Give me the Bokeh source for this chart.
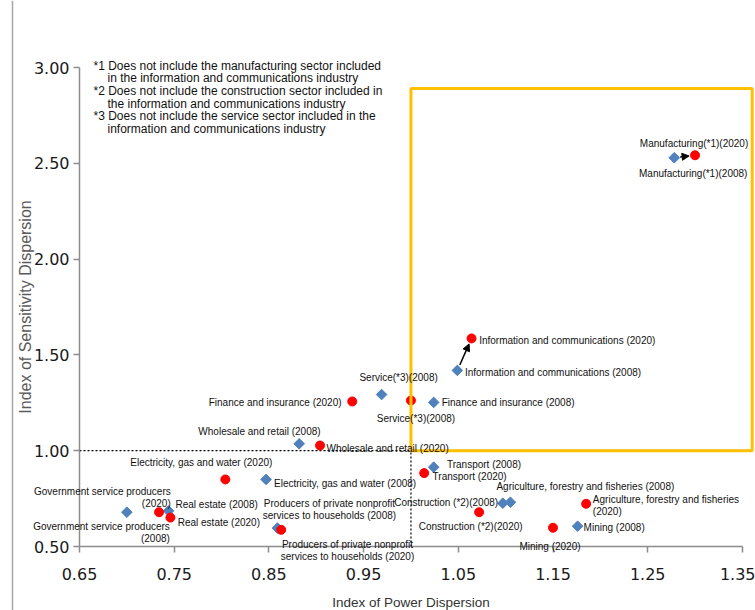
import numpy as np
from bokeh.plotting import figure
from bokeh.models import (ColumnDataSource, LabelSet, Arrow, NormalHead, BoxAnnotation,
                          FixedTicker, PrintfTickFormatter, Range1d)
from bokeh.core.properties import value
from bokeh.embed import file_html
from bokeh.resources import INLINE

# ---------------- data ----------------
sectors = ["Manufacturing", "Information and communications", "Finance and insurance",
           "Service", "Wholesale and retail", "Electricity, gas and water",
           "Government service producers", "Real estate",
           "Producers of private nonprofit services to households", "Transport",
           "Construction", "Agriculture, forestry and fisheries", "Mining"]

power_2008 = [1.278, 1.049, 1.024, 0.969, 0.882, 0.847, 0.700, 0.744, 0.859, 1.024, 1.097, 1.105, 1.176]
sens_2008 = [2.529, 1.419, 1.252, 1.293, 1.036, 0.850, 0.679, 0.686, 0.596, 0.914, 0.726, 0.731, 0.606]
power_2020 = [1.300, 1.064, 0.938, 1.000, 0.904, 0.804, 0.734, 0.746, 0.863, 1.014, 1.072, 1.185, 1.150]
sens_2020 = [2.542, 1.586, 1.257, 1.262, 1.027, 0.850, 0.679, 0.651, 0.587, 0.883, 0.679, 0.723, 0.598]

labels_2008 = ["Manufacturing(*1)(2008)", "Information and communications (2008)",
               "Finance and insurance (2008)", "Service(*3)(2008)", "Wholesale and retail (2008)",
               "Electricity, gas and water (2008)", "Government service producers\n(2008)",
               "Real estate (2008)", "Producers of private nonprofit\nservices to households (2008)",
               "Transport (2008)", "Construction (*2)(2008)",
               "Agriculture, forestry and fisheries (2008)", "Mining (2008)"]
labels_2020 = ["Manufacturing(*1)(2020)", "Information and communications (2020)",
               "Finance and insurance (2020)", "Service(*3)(2008)", "Wholesale and retail (2020)",
               "Electricity, gas and water (2020)", "Government service producers\n(2020)",
               "Real estate (2020)", "Producers of private nonprofit\nservices to households (2020)",
               "Transport (2020)", "Construction (*2)(2020)",
               "Agriculture, forestry and fisheries\n(2020)", "Mining (2020)"]

arrow_sectors = [0, 1]  # indices of sectors with change arrows

x_ticks = [0.65, 0.75, 0.85, 0.95, 1.05, 1.15, 1.25, 1.35]
y_ticks = [0.50, 1.00, 1.50, 2.00, 2.50, 3.00]

notes = ["*1 Does not include the manufacturing sector included",
         "in the information and communications industry",
         "*2 Does not include the construction sector included in",
         "the information and communications industry",
         "*3 Does not include the service sector included in the",
         "information and communications industry"]
notes_indent = [0, 1, 0, 1, 0, 1]

THRESHOLD = 1.0

# ---------------- layout (positions / styles) ----------------
W, H = 755, 610
PX0, PY0 = 79, 546          # canvas px of the axes origin (0.65, 0.50)
XS, YS = 947.0, 191.6       # px per data unit
X_START, X_END = 0.65 - PX0 / XS, 0.65 + (W - PX0) / XS
Y_START, Y_END = 0.50 - (H - PY0) / YS, 0.50 + PY0 / YS

def cx(px):  # canvas px -> data x
    return 0.65 + (px - PX0) / XS

def cy(py):  # canvas px (from top) -> data y
    return 0.50 + (PY0 - py) / YS

# label placement: (align, dx px, dy px up)
lab_pos_2008 = [("center", 19, -16), ("left", 7.6, -1.7), ("left", 8, -0.3), ("center", 17, 17.3),
                ("center", -39.7, 12.3), ("left", 8, -4.3), ("right", 43, -20.5), ("left", 7, 6.3),
                ("center", 52, 18.2), ("left", 13.3, 2.7), ("right", -4.7, 1), ("center", 75, 16),
                ("left", 6, -1.6)]
lab_pos_2020 = [("center", -1, 11.4), ("left", 7.6, -2), ("right", -10.7, -1.3), ("center", 5, -18.3),
                ("left", 6.4, -3.3), ("center", -24, 17.3), ("right", 11.7, 14.5), ("left", 7.3, -5.3),
                ("center", 66.3, -20.2), ("left", 8.4, -3.3), ("center", -8.5, -14), ("left", 6.7, -1.9),
                ("center", -3, -18.7)]
LINE_H = 12.0

BLUE = "#4F81BD"
RED = "#FF0000"
GOLD = "#FFC000"
LABEL_FONT = "Liberation Sans"

p = figure(width=W, height=H, x_range=Range1d(X_START, X_END), y_range=Range1d(Y_START, Y_END),
           output_backend="svg", toolbar_location=None,
           min_border_left=0, min_border_right=0, min_border_top=0, min_border_bottom=0,
           x_axis_label="Index of Power Dispersion",
           y_axis_label="Index of Sensitivity Dispersion")
p.background_fill_color = "white"
p.border_fill_color = "white"
p.outline_line_color = None
p.xgrid.visible = False
p.ygrid.visible = False

for ax, ticks, bnds in ((p.xaxis, x_ticks, (0.65, 1.35)), (p.yaxis, y_ticks, (0.5, 3.0))):
    ax.ticker = FixedTicker(ticks=ticks)
    ax.formatter = PrintfTickFormatter(format="%.2f")
    ax.bounds = bnds
    ax.axis_line_color = "#8C8C8C"
    ax.axis_line_width = 1.5
    ax.major_tick_line_color = "#8C8C8C"
    ax.major_tick_line_width = 1.5
    ax.major_tick_in = 0
    ax.major_tick_out = 6
    ax.minor_tick_line_color = None
    ax.major_label_text_font = "DejaVu Sans"
    ax.major_label_text_font_size = "16px"
    ax.major_label_text_color = "#1a1a1a"
    ax.axis_label_text_font_style = "normal"
    ax.axis_label_text_font = "Liberation Sans"

p.xaxis.fixed_location = 0.50
p.yaxis.fixed_location = 0.65

p.xaxis.major_label_standoff = 15
p.xaxis.axis_label_standoff = 12
p.xaxis.axis_label_text_font_size = "13.5px"
p.xaxis.axis_label_text_color = "#333333"

p.yaxis.major_label_standoff = 4
p.yaxis.axis_label_standoff = -3
p.yaxis.axis_label_text_font_size = "16px"
p.yaxis.axis_label_text_color = "#595959"

# left border line of chart area
p.segment(x0=[cx(12)], y0=[Y_START], x1=[cx(12)], y1=[Y_END], line_color="#A6A6A6", line_width=1.5)

# quadrant box
p.add_layout(BoxAnnotation(left=THRESHOLD, right=cx(751.7), bottom=THRESHOLD, top=cy(88),
                           fill_alpha=0, fill_color=None, line_color=GOLD, line_alpha=1,
                           line_width=3))

# threshold dashed lines
p.segment(x0=[0.65, THRESHOLD], y0=[THRESHOLD, 0.50], x1=[THRESHOLD, THRESHOLD],
          y1=[THRESHOLD, THRESHOLD], line_color="black", line_width=1.2, line_dash="2 2")

# points
p.scatter(power_2008, sens_2008, marker="square", angle=np.pi / 4, size=7.5,
          fill_color=BLUE, line_color=BLUE)
p.scatter(power_2020, sens_2020, marker="circle", size=9, fill_color=RED, line_color=RED)

# arrows
for i in arrow_sectors:
    x0, y0, x1, y1 = power_2008[i], sens_2008[i], power_2020[i], sens_2020[i]
    dxp, dyp = (x1 - x0) * XS, (y1 - y0) * YS
    L = float(np.hypot(dxp, dyp))
    ux, uy = dxp / L, dyp / L
    p.add_layout(Arrow(end=NormalHead(size=7, fill_color="black", line_color="black"),
                       x_start=x0 + ux * 6 / XS, y_start=y0 + uy * 6 / YS,
                       x_end=x1 - ux * 6 / XS, y_end=y1 - uy * 6 / YS,
                       line_color="black", line_width=1.5))

# point labels (multi-line labels split so each line keeps the block's alignment)
def add_labels(xs, ys, texts, pos):
    for align in ("left", "center", "right"):
        lx, ly, lt = [], [], []
        for x, y, t, (a, dx, dy) in zip(xs, ys, texts, pos):
            if a != align:
                continue
            lines = t.split("\n")
            n = len(lines)
            for k, line in enumerate(lines):
                lx.append(x + dx / XS)
                ly.append(y + (dy - (k - (n - 1) / 2) * LINE_H) / YS)
                lt.append(line)
        if not lt:
            continue
        src = ColumnDataSource(dict(x=lx, y=ly, text=lt))
        p.add_layout(LabelSet(x="x", y="y", text="text", source=src,
                              text_font=value(LABEL_FONT), text_font_size=value("10px"),
                              text_color="#111111", text_align=align,
                              text_baseline="middle"))

add_labels(power_2008, sens_2008, labels_2008, lab_pos_2008)
add_labels(power_2020, sens_2020, labels_2020, lab_pos_2020)

# notes
NOTE_X0, NOTE_INDENT, NOTE_Y0, NOTE_STEP = 93, 14, 65, 12.7
nsrc = ColumnDataSource(dict(
    x=[cx(NOTE_X0 + NOTE_INDENT * k) for k in notes_indent],
    y=[cy(NOTE_Y0 + NOTE_STEP * i) for i in range(len(notes))],
    text=notes))
p.add_layout(LabelSet(x="x", y="y", text="text", source=nsrc,
                      text_font=value("Liberation Sans"), text_font_size=value("12px"),
                      text_color="#111111", text_align="left", text_baseline="middle"))

open("out.html", "w").write(file_html(p, INLINE))
